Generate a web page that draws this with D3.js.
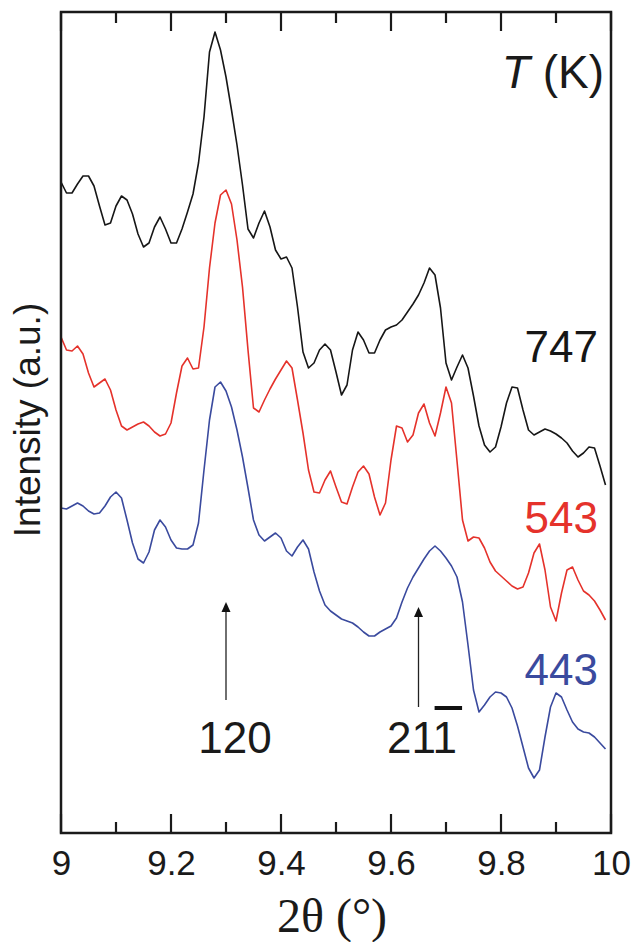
<!DOCTYPE html>
<html>
<head>
<meta charset="utf-8">
<script src="https://cdn.jsdelivr.net/npm/d3@7"></script>
<style>
  html, body { margin: 0; padding: 0; background: #fff; }
  svg { display: block; }
</style>
</head>
<body>
<svg id="chart" width="635" height="942"></svg>
<script>
// ---- data (2θ from 9.00 to 9.99 in 0.01 steps; intensity in a.u.) ----
const twoTheta = d3.range(100).map(i => +(9 + i * 0.01).toFixed(2));

const series747 = [651,640,640,649,657,657,647,627,608,610,627,637,633,619,599,586,590,606,616,604,
  590,590,604,621,639,670,716,781,801,783,756,723,688,648,604,595,610,622,606,583,
  574,576,565,526,481,465,470,483,489,483,461,438,448,483,501,493,480,480,493,503,
  506,508,513,521,529,538,550,565,558,525,470,453,466,478,465,437,407,388,381,386,
  406,430,446,445,423,403,398,401,404,402,399,395,390,382,376,380,386,385,367,348];

const series543 = [496,483,482,487,479,460,446,450,454,443,423,407,403,406,409,411,407,401,397,399,
  410,440,467,475,464,465,506,565,610,638,643,629,593,546,483,425,421,433,444,454,
  463,472,465,433,400,363,341,340,353,362,346,331,329,346,361,367,359,336,318,330,
  373,407,405,391,398,420,429,410,397,420,446,430,372,313,292,296,295,285,271,262,
  257,252,247,244,246,260,280,289,263,226,212,240,263,266,253,242,238,232,223,213];

const series443 = [325,324,327,330,327,322,319,320,327,336,341,335,313,290,274,270,281,303,313,306,
  293,285,284,284,288,310,363,413,446,451,442,426,403,376,345,313,298,292,296,300,
  295,282,277,286,293,284,261,242,228,222,218,214,212,210,206,201,197,197,201,204,
  207,215,231,245,256,265,274,282,287,282,275,267,256,231,188,143,121,128,136,141,
  140,136,125,107,86,65,55,63,96,126,140,136,123,111,104,101,100,96,90,84];

const seriesNames = ["747", "543", "443"];
const seriesColors = ["#161616", "#e5322b", "#3a4a9e"];
const allSeries = [series747, series543, series443];

const xTicks = [9, 9.2, 9.4, 9.6, 9.8, 10];
const xMinorTicks = [9.1, 9.3, 9.5, 9.7, 9.9];

const peakLabels = [
  { pos: 9.30, label: "120", bar: false },
  { pos: 9.65, label: "211", bar: true }
];

// ---- layout ----
const svg = d3.select("#chart");
const m = { left: 61, right: 611, top: 12, bottom: 833 };
const x = d3.scaleLinear().domain([9, 10]).range([m.left, m.right]);
const y = d3.scaleLinear().domain([0, 821]).range([m.bottom, m.top]);
const sans = "'Liberation Sans', Arial, Helvetica, sans-serif";
const ink = "#1a1a1a";

// curves
const line = d3.line().x(d => x(d[0])).y(d => y(d[1]));
allSeries.forEach((s, k) => {
  svg.append("path")
    .datum(twoTheta.map((t, i) => [t, s[i]]))
    .attr("fill", "none")
    .attr("stroke", seriesColors[k])
    .attr("stroke-width", 1.6)
    .attr("stroke-linejoin", "round")
    .attr("d", line);
});

// bottom axis labels via d3.axisBottom
const bottomAxis = svg.append("g")
  .attr("transform", `translate(0,${m.bottom})`)
  .call(d3.axisBottom(x).tickValues(xTicks).tickSize(0).tickFormat(d3.format("")));
bottomAxis.select(".domain").remove();
bottomAxis.selectAll(".tick text")
  .attr("font-family", sans).attr("font-size", 35).attr("fill", ink)
  .attr("y", 42).attr("dy", 0);

// inward tick marks, top and bottom (major 19px, minor 11px)
const tickDefs = xTicks.map(v => ({ v, len: 19 })).concat(xMinorTicks.map(v => ({ v, len: 11 })));
const tickG = svg.append("g").attr("class", "ticks");
tickG.selectAll("line.bt").data(tickDefs).join("line")
  .attr("class", "bt")
  .attr("x1", d => x(d.v)).attr("x2", d => x(d.v))
  .attr("y1", m.bottom).attr("y2", d => m.bottom - d.len)
  .attr("stroke", ink).attr("stroke-width", 2.2);
tickG.selectAll("line.tt").data(tickDefs).join("line")
  .attr("class", "tt")
  .attr("x1", d => x(d.v)).attr("x2", d => x(d.v))
  .attr("y1", m.top).attr("y2", d => m.top + d.len)
  .attr("stroke", ink).attr("stroke-width", 2.2);

// frame
svg.append("rect")
  .attr("x", m.left).attr("y", m.top)
  .attr("width", m.right - m.left).attr("height", m.bottom - m.top)
  .attr("fill", "none").attr("stroke", ink).attr("stroke-width", 2.5);

// axis titles
svg.append("text")
  .attr("x", 332).attr("y", 932)
  .attr("text-anchor", "middle")
  .attr("font-family", "'Liberation Serif', 'Times New Roman', serif")
  .attr("font-size", 48).attr("fill", ink)
  .text("2θ (°)");

svg.append("text")
  .attr("transform", "translate(40,420) rotate(-90)")
  .attr("text-anchor", "middle")
  .attr("font-family", sans).attr("font-size", 37).attr("fill", ink)
  .text("Intensity (a.u.)");

// legend-like labels
const tk = svg.append("text")
  .attr("x", 604).attr("y", 88)
  .attr("text-anchor", "end")
  .attr("font-family", sans).attr("font-size", 46).attr("fill", ink);
tk.append("tspan").attr("font-style", "italic").text("T");
tk.append("tspan").text(" (K)");

const labelY = [362, 533, 685];
seriesNames.forEach((n, k) => {
  svg.append("text")
    .attr("x", 598).attr("y", labelY[k])
    .attr("text-anchor", "end")
    .attr("font-family", sans).attr("font-size", 44)
    .attr("fill", seriesColors[k])
    .text(n);
});

// peak arrows + Miller indices
const arrowTip = [602, 607];
const arrowBase = [700, 707];
peakLabels.forEach((p, k) => {
  const px = x(p.pos);
  svg.append("line")
    .attr("x1", px).attr("x2", px)
    .attr("y1", arrowBase[k]).attr("y2", arrowTip[k] + 8)
    .attr("stroke", "#222").attr("stroke-width", 1.3);
  svg.append("path")
    .attr("d", `M${px},${arrowTip[k]} L${px - 4.5},${arrowTip[k] + 10} L${px + 4.5},${arrowTip[k] + 10} Z`)
    .attr("fill", "#111");
  const t = svg.append("text")
    .attr("x", k === 0 ? px + 9 : px + 3.5).attr("y", 753)
    .attr("text-anchor", "middle")
    .attr("font-family", sans).attr("font-size", 44).attr("fill", ink)
    .text(p.label);
  if (p.bar) {
    const node = t.node();
    const n = p.label.length;
    const start = node.getStartPositionOfChar(n - 1).x;
    const end = node.getEndPositionOfChar(n - 1).x;
    svg.append("line")
      .attr("x1", start + 2).attr("x2", end + 5)
      .attr("y1", 708).attr("y2", 708)
      .attr("stroke", "#111").attr("stroke-width", 4);
  }
});
</script>
</body>
</html>
